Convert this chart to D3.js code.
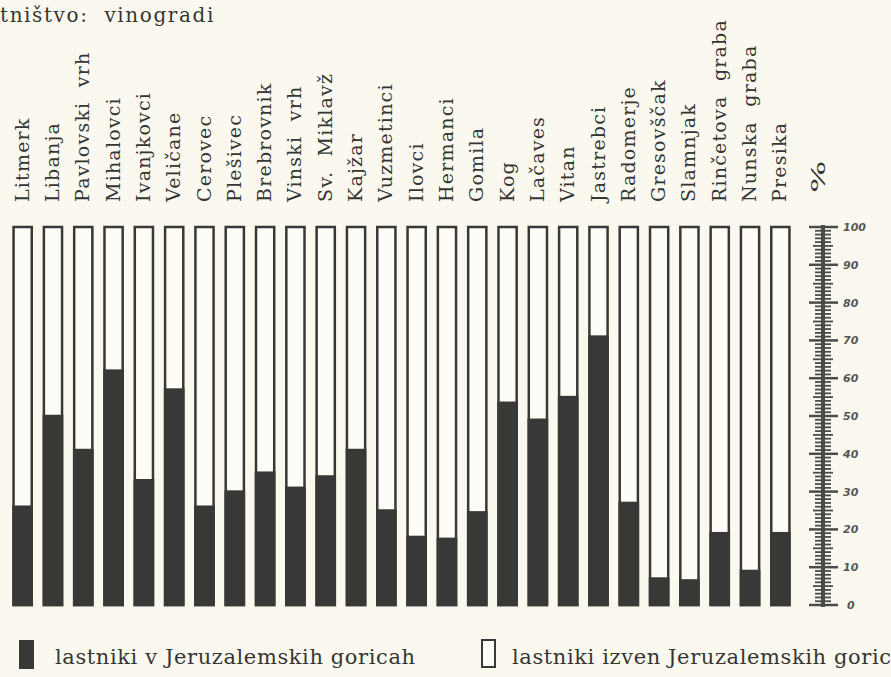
<!DOCTYPE html>
<html>
<head>
<meta charset="utf-8">
<script src="https://cdn.jsdelivr.net/npm/d3@7"></script>
<style>
  html, body { margin: 0; padding: 0; background: #fbf9ef; }
  svg { display: block; }
  .lbl { font-family: "DejaVu Serif", "Liberation Serif", serif; fill: #353633; }
</style>
</head>
<body>
<svg id="chart" width="891" height="677"></svg>
<script>
// villages (left to right)
const villages = ["Litmerk", "Libanja", "Pavlovski  vrh", "Mihalovci", "Ivanjkovci", "Veličane",
  "Cerovec", "Plešivec", "Brebrovnik", "Vinski  vrh", "Sv.  Miklavž", "Kajžar", "Vuzmetinci",
  "Ilovci", "Hermanci", "Gomila", "Kog", "Lačaves", "Vitan", "Jastrebci", "Radomerje",
  "Gresovščak", "Slamnjak", "Rinčetova  graba", "Nunska  graba", "Presika"];
// share of owners from Jeruzalemske gorice (%)
const insideShare = [26, 50, 41, 62, 33, 57, 26, 30, 35, 31, 34, 41, 25,
  18, 17.5, 24.5, 53.5, 49, 55, 71, 27, 7, 6.5, 19, 9, 19];
const axisTicks = [0, 10, 20, 30, 40, 50, 60, 70, 80, 90, 100];
const legendLabels = ["lastniki v Jeruzalemskih goricah", "lastniki izven Jeruzalemskih goric"];
const titleText = "tništvo:  vinogradi";

const dark = "#383936";
const svg = d3.select("#chart");

const x = d3.scaleBand().domain(villages).range([7.5, 795.5]).paddingInner(0.4).paddingOuter(0.2);
const y = d3.scaleLinear().domain([0, 100]).range([605, 227]);

// title (cut at left edge in the original)
svg.append("text").attr("class", "lbl")
  .attr("x", 0).attr("y", 22)
  .style("font-size", "20px").style("letter-spacing", "1.6px")
  .style("white-space", "pre")
  .text(titleText);

// rotated village labels
svg.append("g").selectAll("text")
  .data(villages)
  .join("text")
  .attr("class", "lbl")
  .attr("transform", d => `translate(${x(d) + x.bandwidth() / 2 + 6},202) rotate(-90)`)
  .style("font-size", "19px")
  .style("letter-spacing", "1.2px")
  .style("white-space", "pre")
  .text(d => d);

// bars: outline = 100 %, dark part = owners inside
const bars = svg.append("g").selectAll("g")
  .data(villages)
  .join("g");

bars.append("rect")
  .attr("x", d => x(d))
  .attr("y", y(100))
  .attr("width", x.bandwidth())
  .attr("height", y(0) - y(100))
  .attr("fill", "#fdfcf7")
  .attr("stroke", dark)
  .attr("stroke-width", 2.5);

bars.append("rect")
  .attr("x", d => x(d))
  .attr("y", (d, i) => y(insideShare[i]))
  .attr("width", x.bandwidth())
  .attr("height", (d, i) => y(0) - y(insideShare[i]))
  .attr("fill", dark)
  .attr("stroke", dark)
  .attr("stroke-width", 2.5);

// percent scale on the right
const ax = 823;
const scale = svg.append("g");
scale.append("line")
  .attr("x1", ax).attr("x2", ax)
  .attr("y1", y(0) + 2).attr("y2", y(100) - 2)
  .attr("stroke", "#4a4b48").attr("stroke-width", 4);

scale.selectAll("line.tk")
  .data(d3.range(0, 101))
  .join("line")
  .attr("class", "tk")
  .attr("x1", d => ax - (d % 10 === 0 ? 14 : d % 5 === 0 ? 10 : 8))
  .attr("x2", d => ax + (d % 10 === 0 ? 15 : d % 5 === 0 ? 10 : 8))
  .attr("y1", d => y(d)).attr("y2", d => y(d))
  .attr("stroke", "#4a4b48")
  .attr("stroke-width", d => d % 10 === 0 ? 2.5 : 1.8);

scale.selectAll("text")
  .data(axisTicks)
  .join("text")
  .attr("x", d => d === 0 ? 847 : 843)
  .attr("y", d => y(d) + 4)
  .style("font-family", "DejaVu Sans, sans-serif")
  .style("font-style", "italic")
  .style("font-weight", "bold")
  .style("font-size", "11px")
  .style("fill", "#555652")
  .text(d => d);

svg.append("text").attr("class", "lbl")
  .attr("transform", "translate(825,193) rotate(-90) scale(1.9,1)")
  .style("font-size", "18px")
  .text("%");

// legend
const legend = svg.append("g");
legend.append("rect")
  .attr("x", 19).attr("y", 640).attr("width", 15).attr("height", 29)
  .attr("fill", dark);
legend.append("rect")
  .attr("x", 482).attr("y", 640).attr("width", 13).attr("height", 27)
  .attr("fill", "#fdfcf7").attr("stroke", dark).attr("stroke-width", 2);
legend.selectAll("text.leg")
  .data(legendLabels)
  .join("text")
  .attr("class", "lbl leg")
  .attr("x", (d, i) => i === 0 ? 55 : 512)
  .attr("y", 664)
  .style("font-size", "21px")
  .style("letter-spacing", "0.6px")
  .style("white-space", "pre")
  .text(d => d);
</script>
</body>
</html>
